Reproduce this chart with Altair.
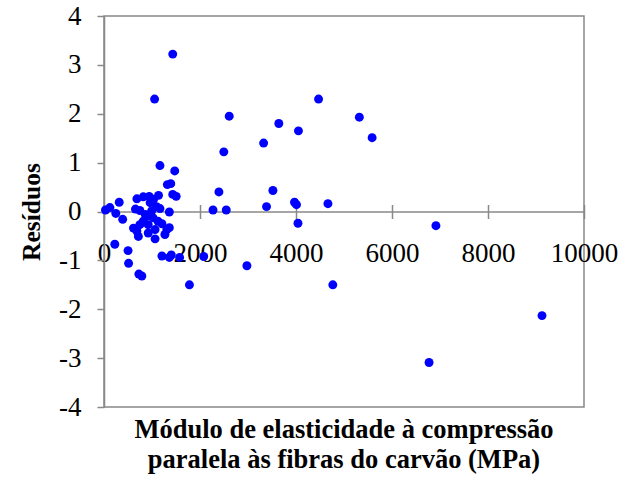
import altair as alt
import pandas as pd

x_vals = [1432, 1054, 4470, 2609, 5320, 3642, 4051, 5586, 3325, 2496,
          1166, 1473, 1320, 1391, 2394, 3519, 1432, 1504, 1136, 941,
          818, 685, 317, 31, 123, 246, 389, 1361, 1095, 1166,
          992, 747, 859, 1023, 818, 921, 614, 685, 1064, 1309,
          1361, 1269, 716, 1064, 921, 1125, 747, 962, 890, 1207,
          655, 1033, 2271, 2547, 3386, 3969, 4010, 4665, 4041, 6915,
          225, 501, 512, 726, 788, 1207, 1361, 1402, 1575, 2077,
          1780, 2977, 4767, 9125, 6772]
y_vals = [3.22, 2.30, 2.30, 1.95, 1.93, 1.80, 1.65, 1.51, 1.40, 1.22,
          0.94, 0.83, 0.55, 0.57, 0.40, 0.43, 0.35, 0.31, 0.33, 0.31,
          0.30, 0.26, 0.19, 0.03, 0.08, -0.04, -0.16, -0.01, 0.10, 0.06,
          0.01, 0.02, -0.06, -0.13, -0.20, -0.27, -0.34, -0.40, -0.37, -0.37,
          -0.33, -0.47, -0.51, -0.56, -0.44, -0.20, -0.27, 0.18, -0.10, -0.25,
          0.05, 0.25, 0.03, 0.03, 0.10, 0.19, 0.14, 0.16, -0.24, -0.29,
          -0.67, -0.80, -1.06, -1.28, -1.32, -0.91, -0.94, -0.89, -0.94, -0.92,
          -1.50, -1.11, -1.50, -2.13, -3.09]
x_ticks = [0, 2000, 4000, 6000, 8000, 10000]
y_ticks = [-4, -3, -2, -1, 0, 1, 2, 3, 4]
y_title = "Resíduos"
x_title = ["Módulo de elasticidade à compressão", "paralela às fibras do carvão (MPa)"]

df = pd.DataFrame({"x": x_vals, "y": y_vals})

FONT = "Liberation Serif, Times New Roman, serif"
GRAY = "#888888"

x_scale = alt.Scale(domain=[0, 10000], nice=False, zero=False)
y_scale = alt.Scale(domain=[-4, 4], nice=False)

y_enc = alt.Y(
    "y:Q", scale=y_scale,
    axis=alt.Axis(values=y_ticks, grid=False, tickSize=7, labelPadding=16,
                  labelExpr="'' + datum.value", title=y_title,
                  labelFlush=False, labelOverlap=False,
                  titleFont=FONT, titleFontSize=25.5, titleFontWeight="bold",
                  titleColor="black", titlePadding=14),
)

points = alt.Chart(df).mark_circle(size=80, color="#0000FF", opacity=1).encode(
    x=alt.X("x:Q", scale=x_scale,
            axis=alt.Axis(values=x_ticks, orient="bottom", offset=-195.5, grid=False,
                          tickSize=7, labelPadding=22, labelExpr="'' + datum.value",
                          labelFlush=False, labelOverlap=False,
                          title=None)),
    y=y_enc,
)

top_ticks = alt.Chart(df).mark_circle(opacity=0).encode(
    x=alt.X("x:Q", scale=x_scale,
            axis=alt.Axis(values=x_ticks, orient="top", offset=-195.5, grid=False,
                          tickSize=7, labels=False, domain=False, title=None)),
    y=y_enc,
)

chart = alt.layer(top_ticks, points).resolve_axis(x="independent").properties(
    width=480, height=391,
    autosize=alt.AutoSizeParams(type="none"),
    padding={"left": 104, "top": 16, "right": 36, "bottom": 78},
    title=alt.TitleParams(text=x_title, orient="bottom", font=FONT, fontSize=26.5,
                          fontWeight="bold", color="black", lineHeight=29.5,
                          offset=-3, anchor="middle"),
).configure_view(stroke=GRAY, strokeWidth=1.5).configure_axis(
    domainColor=GRAY, tickColor=GRAY, domainWidth=1.5, tickWidth=1.5,
    labelFont=FONT, labelFontSize=27, labelColor="black",
)

chart.save("out.html", embed_options={"renderer": "svg", "actions": False})
